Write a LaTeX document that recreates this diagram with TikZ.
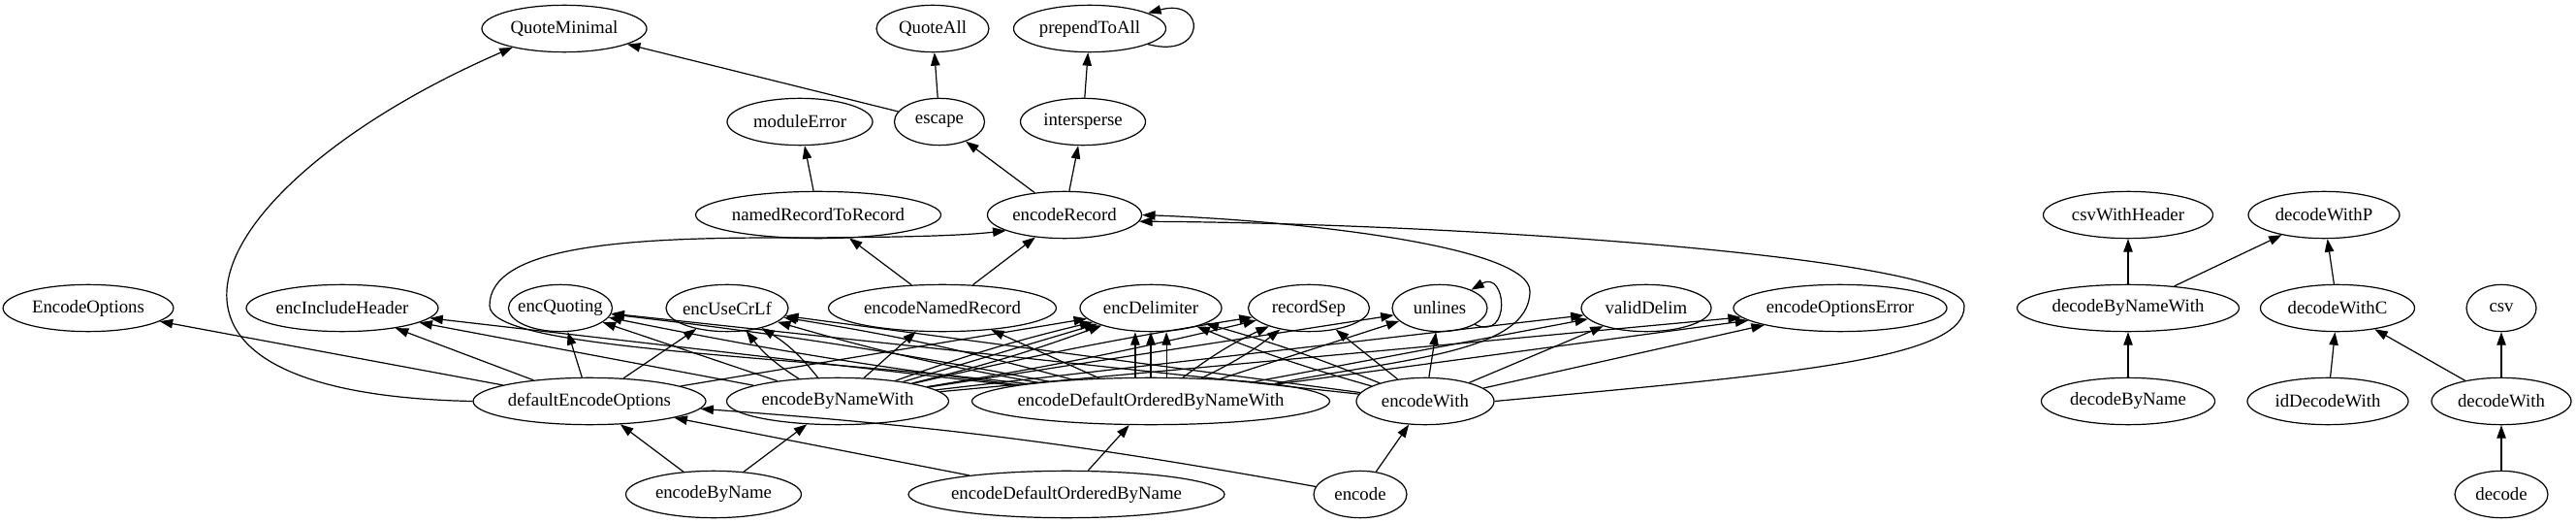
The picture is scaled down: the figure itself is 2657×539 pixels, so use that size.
\documentclass[tikz,border=0pt]{standalone}
\usepackage{fontspec}
\setmainfont{Liberation Serif}
\usetikzlibrary{arrows.meta, shapes.geometric}

\begin{document}
\begin{tikzpicture}[x=0.745pt, y=-0.745pt, line width=0.9pt,
    >={Triangle[length=10pt, width=7pt]},
    font=\fontsize{14pt}{16pt}\selectfont,
    fn/.style={draw, ellipse, inner sep=0pt, minimum height=36pt,
               execute at begin node={\hbox to 0pt\bgroup\hss},
               execute at end node={\hss\egroup}}]

  \path[fill=white, use as bounding box] (0,0) rectangle (2657,539);

  % Quoting and record helpers (upper ranks).
  \node[fn, minimum width=126.7pt] (QuoteMinimal) at (582,29.5) {QuoteMinimal};
  \node[fn, minimum width=86.4pt] (QuoteAll) at (962,29.5) {QuoteAll};
  \node[fn, minimum width=117pt] (prependToAll) at (1124,29.5) {prependToAll};
  \node[fn, minimum width=111.8pt] (moduleError) at (825,125.5) {moduleError};
  \node[fn, minimum width=69.3pt] (escape) at (969,125.5) {escape};
  \node[fn, minimum width=96.1pt] (intersperse) at (1117,125.5) {intersperse};
  \node[fn, minimum width=188.5pt] (namedRecordToRecord) at (844,221.5) {namedRecordToRecord};
  \node[fn, minimum width=118.5pt] (encodeRecord) at (1098,221.5) {encodeRecord};

  % Options and separators.
  \node[fn, minimum width=131pt] (EncodeOptions) at (91,317.5) {EncodeOptions};
  \node[fn, minimum width=147.5pt] (encIncludeHeader) at (353,317.5) {encIncludeHeader};
  \node[fn, minimum width=79.7pt] (encQuoting) at (578,317.5) {encQuoting};
  \node[fn, minimum width=93.9pt] (encUseCrLf) at (750,317.5) {encUseCrLf};
  \node[fn, minimum width=175pt] (encodeNamedRecord) at (972,317.5) {encodeNamedRecord};
  \node[fn, minimum width=108.8pt] (encDelimiter) at (1187,317.5) {encDelimiter};
  \node[fn, minimum width=93.1pt] (recordSep) at (1350,317.5) {recordSep};
  \node[fn, minimum width=73pt] (unlines) at (1485,317.5) {unlines};
  \node[fn, minimum width=99.8pt] (validDelim) at (1698,317.5) {validDelim};
  \node[fn, minimum width=164pt] (encodeOptionsError) at (1898,317.5) {encodeOptionsError};

  % Encoders.
  \node[fn, minimum width=178.8pt] (defaultEncodeOptions) at (608,413.5) {defaultEncodeOptions};
  \node[fn, minimum width=170.6pt] (encodeByNameWith) at (864,413.5) {encodeByNameWith};
  \node[fn, minimum width=275pt] (encodeDefaultOrderedByNameWith) at (1187,413.5) {encodeDefaultOrderedByNameWith};
  \node[fn, minimum width=105.8pt] (encodeWith) at (1470,413.5) {encodeWith};
  \node[fn, minimum width=134.8pt] (encodeByName) at (736,509.5) {encodeByName};
  \node[fn, minimum width=242.9pt] (encodeDefaultOrderedByName) at (1100,509.5) {encodeDefaultOrderedByName};
  \node[fn, minimum width=71.5pt] (encode) at (1403,509.5) {encode};

  % Decoders.
  \node[fn, minimum width=130.4pt] (csvWithHeader) at (2195,221.5) {csvWithHeader};
  \node[fn, minimum width=116.2pt] (decodeWithP) at (2397,221.5) {decodeWithP};
  \node[fn, minimum width=170.6pt] (decodeByNameWith) at (2195,317.5) {decodeByNameWith};
  \node[fn, minimum width=118.5pt] (decodeWithC) at (2411,317.5) {decodeWithC};
  \node[fn, minimum width=53.6pt] (csv) at (2580,317.5) {csv};
  \node[fn, minimum width=133.4pt] (decodeByName) at (2195,413.5) {decodeByName};
  \node[fn, minimum width=123.7pt] (idDecodeWith) at (2401,413.5) {idDecodeWith};
  \node[fn, minimum width=107.3pt] (decodeWith) at (2580,413.5) {decodeWith};
  \node[fn, minimum width=71.5pt] (decode) at (2580,509.5) {decode};

  % Upper calls.
  \draw[->] (escape) -- (QuoteMinimal);
  \draw[->] (escape) -- (QuoteAll);
  \draw[->] (intersperse) -- (prependToAll);
  \draw[->] (prependToAll) to[out=-15, in=15, looseness=5] (prependToAll);
  \draw[->] (namedRecordToRecord) -- (moduleError);
  \draw[->] (encodeRecord) -- (escape);
  \draw[->] (encodeRecord) -- (intersperse);
  \draw[->] (encodeNamedRecord) -- (namedRecordToRecord);
  \draw[->] (encodeNamedRecord) -- (encodeRecord);
  \draw[->] (unlines) to[out=-25, in=30, looseness=3] (unlines);

  % defaultEncodeOptions.
  \draw[->] (defaultEncodeOptions) -- (EncodeOptions);
  \draw[->] (defaultEncodeOptions) -- (encIncludeHeader);
  \draw[->] (defaultEncodeOptions) -- (encQuoting);
  \draw[->] (defaultEncodeOptions) -- (encUseCrLf);
  \draw[->] (defaultEncodeOptions) -- (encDelimiter);
  \draw[->] (defaultEncodeOptions.west) .. controls (75,405) and (225,180) .. (QuoteMinimal.200);

  % encodeByNameWith.
  \draw[->] (encodeByNameWith) -- (encIncludeHeader);
  \draw[->] (encodeByNameWith) -- (encQuoting);
  \draw[->] (encodeByNameWith) to[bend left=10] (encUseCrLf);
  \draw[->] (encodeByNameWith) to[bend right=10] (encUseCrLf);
  \draw[->] (encodeByNameWith) -- (encodeNamedRecord);
  \draw[->] (encodeByNameWith) to[bend left=3] (encDelimiter);
  \draw[->] (encodeByNameWith) -- (encDelimiter);
  \draw[->] (encodeByNameWith) to[bend right=3] (encDelimiter);
  \draw[->] (encodeByNameWith) to[bend left=2] (recordSep);
  \draw[->] (encodeByNameWith) to[bend right=2] (recordSep);
  \draw[->] (encodeByNameWith) -- (unlines);
  \draw[->] (encodeByNameWith) -- (validDelim);
  \draw[->] (encodeByNameWith) -- (encodeOptionsError);

  % encodeDefaultOrderedByNameWith.
  \draw[->] (encodeDefaultOrderedByNameWith) -- (encIncludeHeader);
  \draw[->] (encodeDefaultOrderedByNameWith) to[bend left=2] (encQuoting);
  \draw[->] (encodeDefaultOrderedByNameWith) to[bend right=2] (encQuoting);
  \draw[->] (encodeDefaultOrderedByNameWith) to[bend left=3] (encUseCrLf);
  \draw[->] (encodeDefaultOrderedByNameWith) to[bend right=3] (encUseCrLf);
  \draw[->] (encodeDefaultOrderedByNameWith) -- (encodeNamedRecord);
  \draw[->] ([xshift=-12pt]encodeDefaultOrderedByNameWith.north) -- ([xshift=-12pt]encDelimiter.south);
  \draw[->] (encodeDefaultOrderedByNameWith.north) -- (encDelimiter.south);
  \draw[->] ([xshift=12pt]encodeDefaultOrderedByNameWith.north) -- ([xshift=12pt]encDelimiter.south);
  \draw[->] (encodeDefaultOrderedByNameWith) to[bend left=6] (recordSep);
  \draw[->] (encodeDefaultOrderedByNameWith) to[bend right=6] (recordSep);
  \draw[->] (encodeDefaultOrderedByNameWith) -- (unlines);
  \draw[->] (encodeDefaultOrderedByNameWith) -- (validDelim);
  \draw[->] (encodeDefaultOrderedByNameWith) -- (encodeOptionsError);
  \draw[->] (encodeDefaultOrderedByNameWith.172) .. controls (800,365) and (505,360) .. (505,315)
        .. controls (505,255) and (640,245) .. (800,245) .. controls (950,245) and (1000,242) .. (encodeRecord.195);
  \draw[->] (encodeDefaultOrderedByNameWith.8) .. controls (1440,370) and (1578,365) .. (1578,300)
        .. controls (1578,255) and (1350,228) .. (encodeRecord.east);

  % encodeWith.
  \draw[->] (encodeWith) -- (encQuoting);
  \draw[->] (encodeWith) -- (encUseCrLf);
  \draw[->] (encodeWith) to[bend left=3] (encDelimiter);
  \draw[->] (encodeWith) to[bend right=3] (encDelimiter);
  \draw[->] (encodeWith) -- (recordSep);
  \draw[->] (encodeWith) -- (unlines);
  \draw[->] (encodeWith) -- (validDelim);
  \draw[->] (encodeWith) -- (encodeOptionsError);
  \draw[->] (encodeWith.east) .. controls (1850,385) and (2028,370) .. (2026,315)
        .. controls (2024,265) and (1500,230) .. (encodeRecord.355);

  % Entry points.
  \draw[->] (encodeByName) -- (defaultEncodeOptions);
  \draw[->] (encodeByName) -- (encodeByNameWith);
  \draw[->] (encodeDefaultOrderedByName) -- (defaultEncodeOptions);
  \draw[->] (encodeDefaultOrderedByName) -- (encodeDefaultOrderedByNameWith);
  \draw[->] (encode) to[bend right=3] (defaultEncodeOptions);
  \draw[->] (encode) -- (encodeWith);

  % Decoding side.
  \draw[->] (decodeByNameWith) -- (csvWithHeader);
  \draw[->] (decodeByNameWith) -- (decodeWithP);
  \draw[->] (decodeWithC) -- (decodeWithP);
  \draw[->] (decodeByName) -- (decodeByNameWith);
  \draw[->] (idDecodeWith) -- (decodeWithC);
  \draw[->] (decodeWith) -- (decodeWithC);
  \draw[->] (decodeWith) -- (csv);
  \draw[->] (decode) -- (decodeWith);
\end{tikzpicture}
\end{document}
